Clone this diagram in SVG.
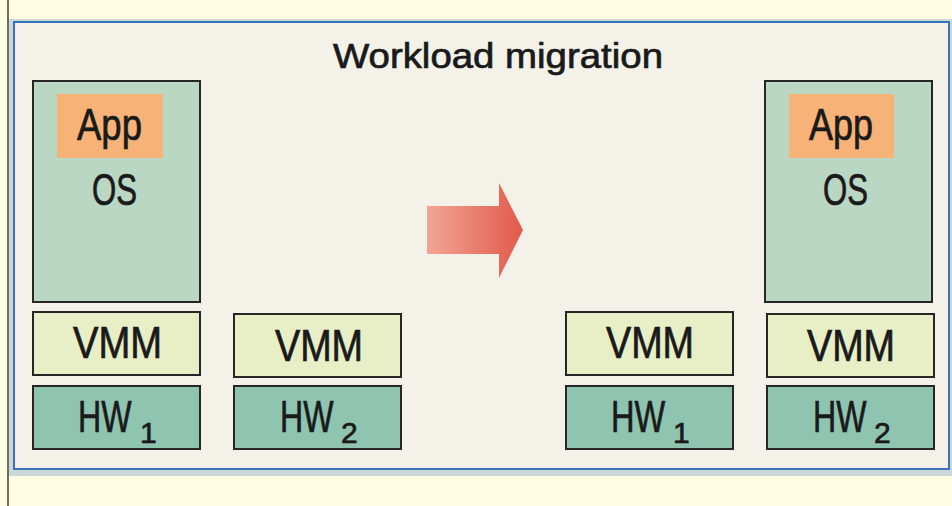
<svg xmlns="http://www.w3.org/2000/svg" width="952" height="506" viewBox="0 0 952 506">
<defs>
<style>
.t{font-family:"Liberation Sans",Arial,sans-serif;fill:#1a1a1a;stroke:#1a1a1a;stroke-width:0.7}
.os{fill:#b9d7c3;stroke:#262626;stroke-width:2}
.app{fill:#f7b377}
.vmm{fill:#e8eec6;stroke:#262626;stroke-width:2}
.hw{fill:#8fc4b1;stroke:#262626;stroke-width:2}
.big{font-size:44px}
.sub{font-size:30px}
</style>
<linearGradient id="ag" x1="0" y1="0" x2="1" y2="0">
<stop offset="0" stop-color="#f2a595"/>
<stop offset="1" stop-color="#e05a4a"/>
</linearGradient>
</defs>
<rect x="0" y="0" width="952" height="506" fill="#fffde2"/>
<rect x="7" y="0" width="2" height="506" fill="#6d6d60"/>
<rect x="9" y="19" width="943" height="457" fill="#cbd8d7"/>
<rect x="14" y="22" width="935" height="447" fill="#f3f1e8" stroke="#3a73b8" stroke-width="2"/>
<text class="t" x="333" y="68" font-size="35" stroke-width="0.5" textLength="330" lengthAdjust="spacingAndGlyphs">Workload migration</text>

<g id="connectors">
<path d="M427,206 H499 V183 L523,230 L499,278 V254 H427 Z" fill="url(#ag)"/>
</g>

<g id="vm-left">
<rect class="os" x="33" y="81" width="167" height="221"/>
<rect class="app" x="57" y="94" width="106" height="64"/>
<text class="t big" x="77" y="140" textLength="65" lengthAdjust="spacingAndGlyphs">App</text>
<text class="t big" x="92" y="205" textLength="45" lengthAdjust="spacingAndGlyphs">OS</text>
</g>
<g id="vmm1-left">
<rect class="vmm" x="33" y="312" width="167" height="63"/>
<text class="t big" x="73" y="358" textLength="89" lengthAdjust="spacingAndGlyphs">VMM</text>
</g>
<g id="hw1-left">
<rect class="hw" x="33" y="386" width="167" height="63"/>
<text class="t big" transform="translate(78,432) scale(0.73,1)">HW</text>
<text class="t sub" x="140" y="443">1</text>
</g>
<g id="vmm2-left">
<rect class="vmm" x="234" y="314" width="167" height="63"/>
<text class="t big" x="275" y="361" textLength="88" lengthAdjust="spacingAndGlyphs">VMM</text>
</g>
<g id="hw2-left">
<rect class="hw" x="234" y="386" width="167" height="63"/>
<text class="t big" transform="translate(280,432) scale(0.73,1)">HW</text>
<text class="t sub" x="341" y="443">2</text>
</g>

<g id="vm-right">
<rect class="os" x="765" y="81" width="167" height="221"/>
<rect class="app" x="789" y="94" width="105" height="64"/>
<text class="t big" x="809" y="140" textLength="64" lengthAdjust="spacingAndGlyphs">App</text>
<text class="t big" x="823" y="205" textLength="45" lengthAdjust="spacingAndGlyphs">OS</text>
</g>
<g id="vmm1-right">
<rect class="vmm" x="566" y="312" width="167" height="63"/>
<text class="t big" x="606" y="358" textLength="88" lengthAdjust="spacingAndGlyphs">VMM</text>
</g>
<g id="hw1-right">
<rect class="hw" x="566" y="386" width="167" height="63"/>
<text class="t big" transform="translate(611,432) scale(0.74,1)">HW</text>
<text class="t sub" x="673" y="443">1</text>
</g>
<g id="vmm2-right">
<rect class="vmm" x="767" y="314" width="167" height="63"/>
<text class="t big" x="807" y="361" textLength="88" lengthAdjust="spacingAndGlyphs">VMM</text>
</g>
<g id="hw2-right">
<rect class="hw" x="767" y="386" width="167" height="63"/>
<text class="t big" transform="translate(813,432) scale(0.73,1)">HW</text>
<text class="t sub" x="874" y="443">2</text>
</g>
</svg>
